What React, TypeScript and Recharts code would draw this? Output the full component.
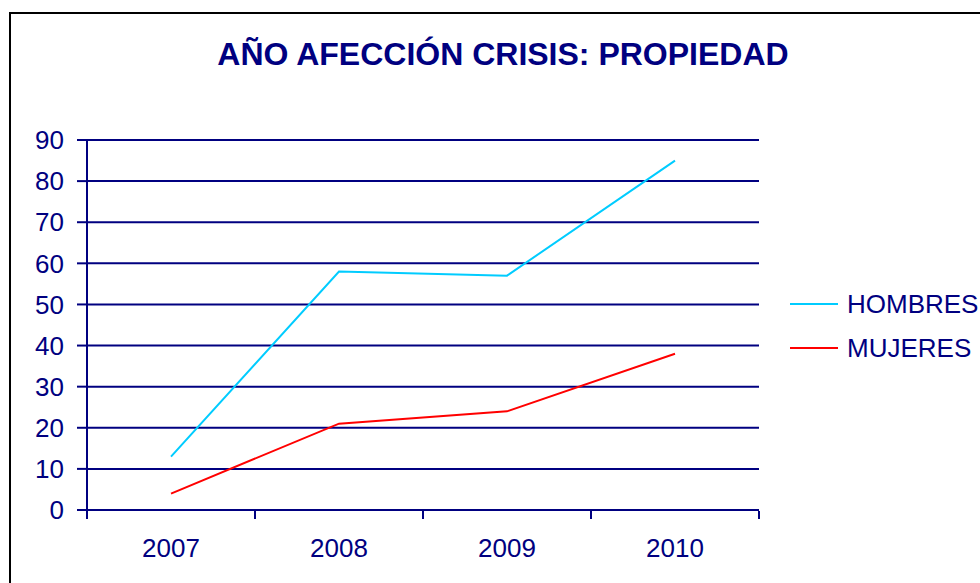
import { LineChart, Line, XAxis, YAxis, CartesianGrid } from "recharts";

const years = ["2007", "2008", "2009", "2010"];
const hombres = [13, 58, 57, 85];
const mujeres = [4, 21, 24, 38];
const yTicks = [0, 10, 20, 30, 40, 50, 60, 70, 80, 90];
const boundaryTicks = [0, 1, 2, 3, 4];

const seriesNames = ["HOMBRES", "MUJERES"];
const seriesColors = ["#00CCFF", "#FF0000"];

const NAVY = "#000080";
const FONT = "'Liberation Sans', Arial, sans-serif";

const data = years.map((year, i) => ({
  pos: i + 0.5,
  year,
  hombres: hombres[i],
  mujeres: mujeres[i],
}));

function ChartLegend() {
  return (
    <div style={{ position: "absolute", left: 790, top: 282, fontFamily: FONT }}>
      {seriesNames.map((name, i) => (
        <div key={name} style={{ display: "flex", alignItems: "center", height: 44 }}>
          <div style={{ width: 48, height: 2, background: seriesColors[i], marginRight: 9 }} />
          <span style={{ fontSize: 26, color: NAVY, whiteSpace: "nowrap" }}>{name}</span>
        </div>
      ))}
    </div>
  );
}

export default function App() {
  return (
    <div
      style={{
        position: "absolute",
        left: 0,
        top: 0,
        width: 980,
        height: 583,
        overflow: "hidden",
        background: "#fff",
      }}
    >
      <div
        style={{
          position: "absolute",
          left: 9,
          top: 12,
          width: 1000,
          height: 600,
          border: "2px solid #000",
        }}
      />
      <div
        style={{
          position: "absolute",
          left: 0,
          width: 1006,
          top: 38,
          textAlign: "center",
          fontFamily: FONT,
          fontWeight: "bold",
          fontSize: 32,
          lineHeight: "32px",
          color: NAVY,
          whiteSpace: "nowrap",
        }}
      >
        AÑO AFECCIÓN CRISIS: PROPIEDAD
      </div>
      <div style={{ position: "absolute", left: 0, top: 0 }}>
        <LineChart
          width={980}
          height={583}
          data={data}
          margin={{ top: 140, right: 221, left: 0, bottom: 32 }}
          style={{ fontFamily: FONT }}
        >
          <CartesianGrid vertical={false} stroke={NAVY} strokeWidth={2} />
          <XAxis
            dataKey="pos"
            type="number"
            domain={[0, years.length]}
            ticks={data.map((d) => d.pos)}
            interval={0}
            tickFormatter={(v: number) => years[Math.floor(v)]}
            height={1}
            tickSize={0}
            tickMargin={29}
            axisLine={false}
            tickLine={false}
            tick={{ fill: NAVY, fontSize: 26 }}
          />
          <XAxis
            xAxisId="bounds"
            dataKey="pos"
            type="number"
            domain={[0, years.length]}
            allowDataOverflow
            ticks={boundaryTicks}
            interval={0}
            tickFormatter={() => ""}
            height={40}
            tickSize={8}
            axisLine={false}
            tickLine={{ stroke: NAVY, strokeWidth: 2 }}
          />
          <YAxis
            domain={[0, 90]}
            ticks={yTicks}
            interval={0}
            width={87}
            tickSize={10}
            tickMargin={13}
            axisLine={{ stroke: NAVY, strokeWidth: 2 }}
            tickLine={{ stroke: NAVY, strokeWidth: 2 }}
            tick={{ fill: NAVY, fontSize: 26 }}
          />
          <Line
            dataKey="hombres"
            name={seriesNames[0]}
            type="linear"
            stroke={seriesColors[0]}
            strokeWidth={2}
            dot={false}
            isAnimationActive={false}
          />
          <Line
            dataKey="mujeres"
            name={seriesNames[1]}
            type="linear"
            stroke={seriesColors[1]}
            strokeWidth={2}
            dot={false}
            isAnimationActive={false}
          />
        </LineChart>
      </div>
      <ChartLegend />
    </div>
  );
}
